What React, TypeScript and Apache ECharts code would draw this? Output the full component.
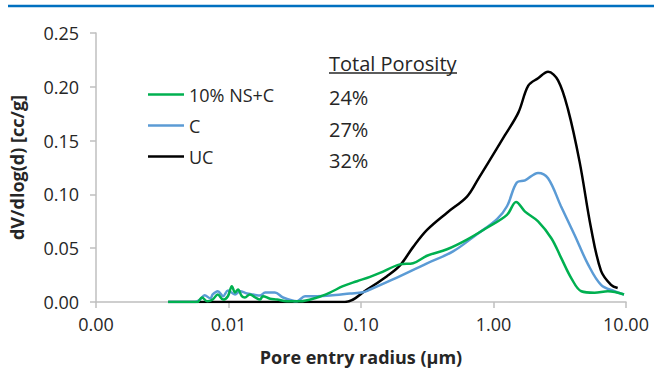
import React, { useEffect, useRef } from "react";
import * as echarts from "echarts";

// Pore entry radius (µm) vs dV/dlog(d) [cc/g]
const nsc: [number, number][] = [
  [0.0035, 0], [0.0058, 0], [0.0063, 0.0042], [0.0069, 0.0007], [0.0076, 0.0023],
  [0.0083, 0.007], [0.0091, 0.0023], [0.0099, 0.0054], [0.0106, 0.0147], [0.0112, 0.0088],
  [0.0118, 0.0116], [0.0126, 0.0054], [0.0133, 0.0042], [0.0145, 0.007], [0.0159, 0.0042],
  [0.0173, 0.0023], [0.0182, 0.0054], [0.0206, 0.003], [0.0232, 0.0023], [0.0276, 0.0007],
  [0.0346, 0.0007], [0.0466, 0.0042], [0.0583, 0.0088], [0.0731, 0.0147], [0.0933, 0.0193],
  [0.117, 0.0234], [0.139, 0.027], [0.197, 0.035], [0.247, 0.036], [0.315, 0.043],
  [0.446, 0.049], [0.631, 0.058], [0.893, 0.069], [1.264, 0.081], [1.48, 0.093],
  [1.73, 0.084], [2.17, 0.075], [2.74, 0.059], [3.24, 0.041], [3.87, 0.022],
  [4.6, 0.01], [5.79, 0.0086], [7.31, 0.01], [9.66, 0.007],
];
const cured: [number, number][] = [
  [0.0035, 0], [0.0056, 0], [0.0061, 0.0023], [0.0066, 0.0063], [0.0073, 0.0033],
  [0.0076, 0.007], [0.0083, 0.01], [0.0091, 0.0054], [0.0099, 0.0107], [0.0112, 0.007],
  [0.0122, 0.01], [0.0138, 0.0079], [0.0153, 0.007], [0.0173, 0.006], [0.0189, 0.0088],
  [0.0224, 0.0088], [0.0258, 0.0042], [0.0329, 0.0007], [0.0378, 0.0054], [0.0466, 0.0054],
  [0.0583, 0.006], [0.0826, 0.0079], [0.1035, 0.0091], [0.117, 0.0116], [0.174, 0.021],
  [0.315, 0.036], [0.495, 0.047], [0.751, 0.063], [1.063, 0.077], [1.264, 0.089],
  [1.5, 0.111], [1.73, 0.113], [2.17, 0.12], [2.58, 0.115], [3.23, 0.089],
  [4.1, 0.062], [5.17, 0.035], [6.48, 0.016], [8.18, 0.01], [9.66, 0.007],
];
const uncured: [number, number][] = [
  [0.0035, 0], [0.0757, 0], [0.111, 0.0116], [0.157, 0.024], [0.197, 0.034],
  [0.247, 0.051], [0.315, 0.067], [0.446, 0.083], [0.631, 0.098], [0.764, 0.114],
  [0.918, 0.13], [1.22, 0.155], [1.54, 0.176], [1.83, 0.201], [2.17, 0.208],
  [2.58, 0.214], [3.07, 0.206], [3.65, 0.179], [4.47, 0.13], [5.44, 0.069],
  [6.48, 0.029], [7.71, 0.016], [8.65, 0.013],
];

const seriesNames = ["10% NS+C", "C", "UC"];
const seriesColors = ["#00B050", "#5B9BD5", "#000000"];
const porosityTitle = "Total Porosity";
const porosityValues = ["24%", "27%", "32%"];

const FONT = "'Open Sans', sans-serif";
const TEXT = "#262626";

export default function App() {
  const ref = useRef<HTMLDivElement>(null);
  useEffect(() => {
    document.body.style.margin = "0";
    if (!ref.current) return;
    const chart = echarts.init(ref.current, undefined, { renderer: "svg" });
    const data = [nsc, cured, uncured];
    chart.setOption({
      animation: false,
      backgroundColor: "#ffffff",
      textStyle: { fontFamily: FONT },
      grid: { left: 96, right: 28, top: 33, bottom: 68, containLabel: false },
      legend: {
        orient: "vertical",
        left: 148,
        top: 79,
        padding: 0,
        icon: "rect",
        itemWidth: 36,
        itemHeight: 2.5,
        itemGap: 0,
        data: seriesNames,
        textStyle: { fontFamily: FONT, fontSize: 18, color: TEXT, lineHeight: 31 },
      },
      xAxis: {
        type: "log",
        logBase: 10,
        min: 0.001,
        max: 10,
        name: "Pore entry radius (µm)",
        nameLocation: "middle",
        nameGap: 46,
        nameTextStyle: { fontFamily: FONT, fontSize: 18, fontWeight: "bold", color: TEXT },
        axisLine: { show: true, lineStyle: { color: "#BFBFBF", width: 1.5 } },
        axisTick: { show: true, length: 6, lineStyle: { color: "#BFBFBF", width: 1.5 } },
        splitLine: { show: false },
        axisLabel: {
          fontFamily: FONT,
          fontSize: 18,
          color: TEXT,
          margin: 13,
          formatter: (v: number) => v.toFixed(2),
        },
      },
      yAxis: {
        type: "value",
        min: 0,
        max: 0.25,
        interval: 0.05,
        name: "dV/dlog(d) [cc/g]",
        nameLocation: "middle",
        nameGap: 70,
        nameTextStyle: { fontFamily: FONT, fontSize: 18, fontWeight: "bold", color: TEXT },
        axisLine: { show: true, lineStyle: { color: "#BFBFBF", width: 1.5 } },
        axisTick: { show: true, length: 6, lineStyle: { color: "#BFBFBF", width: 1.5 } },
        splitLine: { show: false },
        axisLabel: {
          fontFamily: FONT,
          fontSize: 18,
          color: TEXT,
          margin: 17,
          formatter: (v: number) => v.toFixed(2),
        },
      },
      series: data.map((d, i) => ({
        name: seriesNames[i],
        type: "line",
        data: d,
        smooth: 0.35,
        symbol: "none",
        showSymbol: false,
        lineStyle: { color: seriesColors[i], width: 2.5 },
        itemStyle: { color: seriesColors[i] },
        z: 10 - i,
      })),
      graphic: [
        {
          type: "line",
          shape: { x1: 8, y1: 6, x2: 654, y2: 6 },
          style: { stroke: "#0070C0", lineWidth: 2.5 },
        },
        {
          type: "text",
          x: 329,
          y: 63,
          style: {
            text: porosityTitle,
            fontFamily: FONT,
            fontSize: 20,
            fill: TEXT,
            verticalAlign: "middle",
            align: "left",
          },
        },
        {
          type: "line",
          shape: { x1: 329, y1: 73, x2: 457, y2: 73 },
          style: { stroke: TEXT, lineWidth: 1.5 },
        },
        ...porosityValues.map((t, i) => ({
          type: "text",
          x: 329,
          y: 97.5 + i * 31.5,
          style: {
            text: t,
            fontFamily: FONT,
            fontSize: 20,
            fill: TEXT,
            verticalAlign: "middle",
            align: "left",
          },
        })),
      ],
    });
    return () => chart.dispose();
  }, []);
  return <div ref={ref} style={{ width: 654, height: 371 }} />;
}
